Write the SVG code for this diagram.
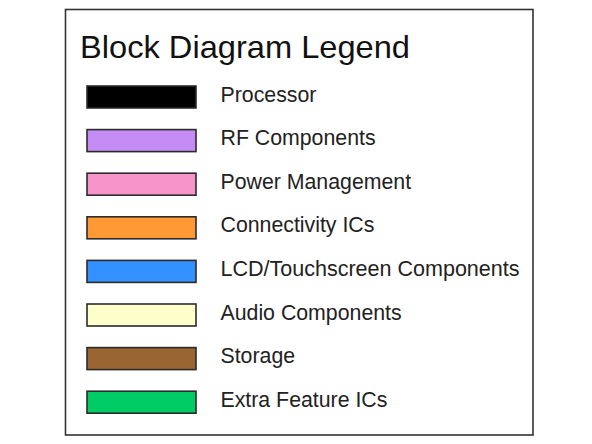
<svg xmlns="http://www.w3.org/2000/svg" width="592" height="444" viewBox="0 0 592 444">
<style>
.sw{stroke:#2b2b2b;stroke-width:1.6}
.lb{font-family:"Liberation Sans",Arial,sans-serif;font-size:21.3px;fill:#222}
.tt{font-family:"Liberation Sans",Arial,sans-serif;font-size:30.5px;fill:#111}
</style>
<rect width="592" height="444" fill="#ffffff"/>
<g id="frame"><rect x="65.5" y="9.5" width="467.5" height="425.5" fill="#ffffff" stroke="#333" stroke-width="1.6"/></g>
<g id="title"><text class="tt" x="80" y="58.3" textLength="330" lengthAdjust="spacingAndGlyphs">Block Diagram Legend</text></g>
<g id="processor"><rect class="sw" x="87" y="86" width="109" height="22" fill="#000000"/><text class="lb" x="220.5" y="101.8">Processor</text></g>
<g id="rf"><rect class="sw" x="87" y="129.6" width="109" height="22" fill="#c68cf5"/><text class="lb" x="220.5" y="145.2">RF Components</text></g>
<g id="power"><rect class="sw" x="87" y="173.2" width="109" height="22" fill="#f794c9"/><text class="lb" x="220.5" y="188.6">Power Management</text></g>
<g id="connectivity"><rect class="sw" x="87" y="216.8" width="109" height="22" fill="#ff9933"/><text class="lb" x="220.5" y="232.2">Connectivity ICs</text></g>
<g id="lcd"><rect class="sw" x="87" y="260.4" width="109" height="22" fill="#3392ff"/><text class="lb" x="220.5" y="276.2" textLength="299" lengthAdjust="spacingAndGlyphs">LCD/Touchscreen Components</text></g>
<g id="audio"><rect class="sw" x="87" y="304" width="109" height="22" fill="#ffffcc"/><text class="lb" x="220.5" y="319.6">Audio Components</text></g>
<g id="storage"><rect class="sw" x="87" y="347.6" width="109" height="22" fill="#996633"/><text class="lb" x="220.5" y="363">Storage</text></g>
<g id="extra"><rect class="sw" x="87" y="391.2" width="109" height="22" fill="#00cc66"/><text class="lb" x="220.5" y="406.6">Extra Feature ICs</text></g>
<g id="connectors"/>
</svg>
